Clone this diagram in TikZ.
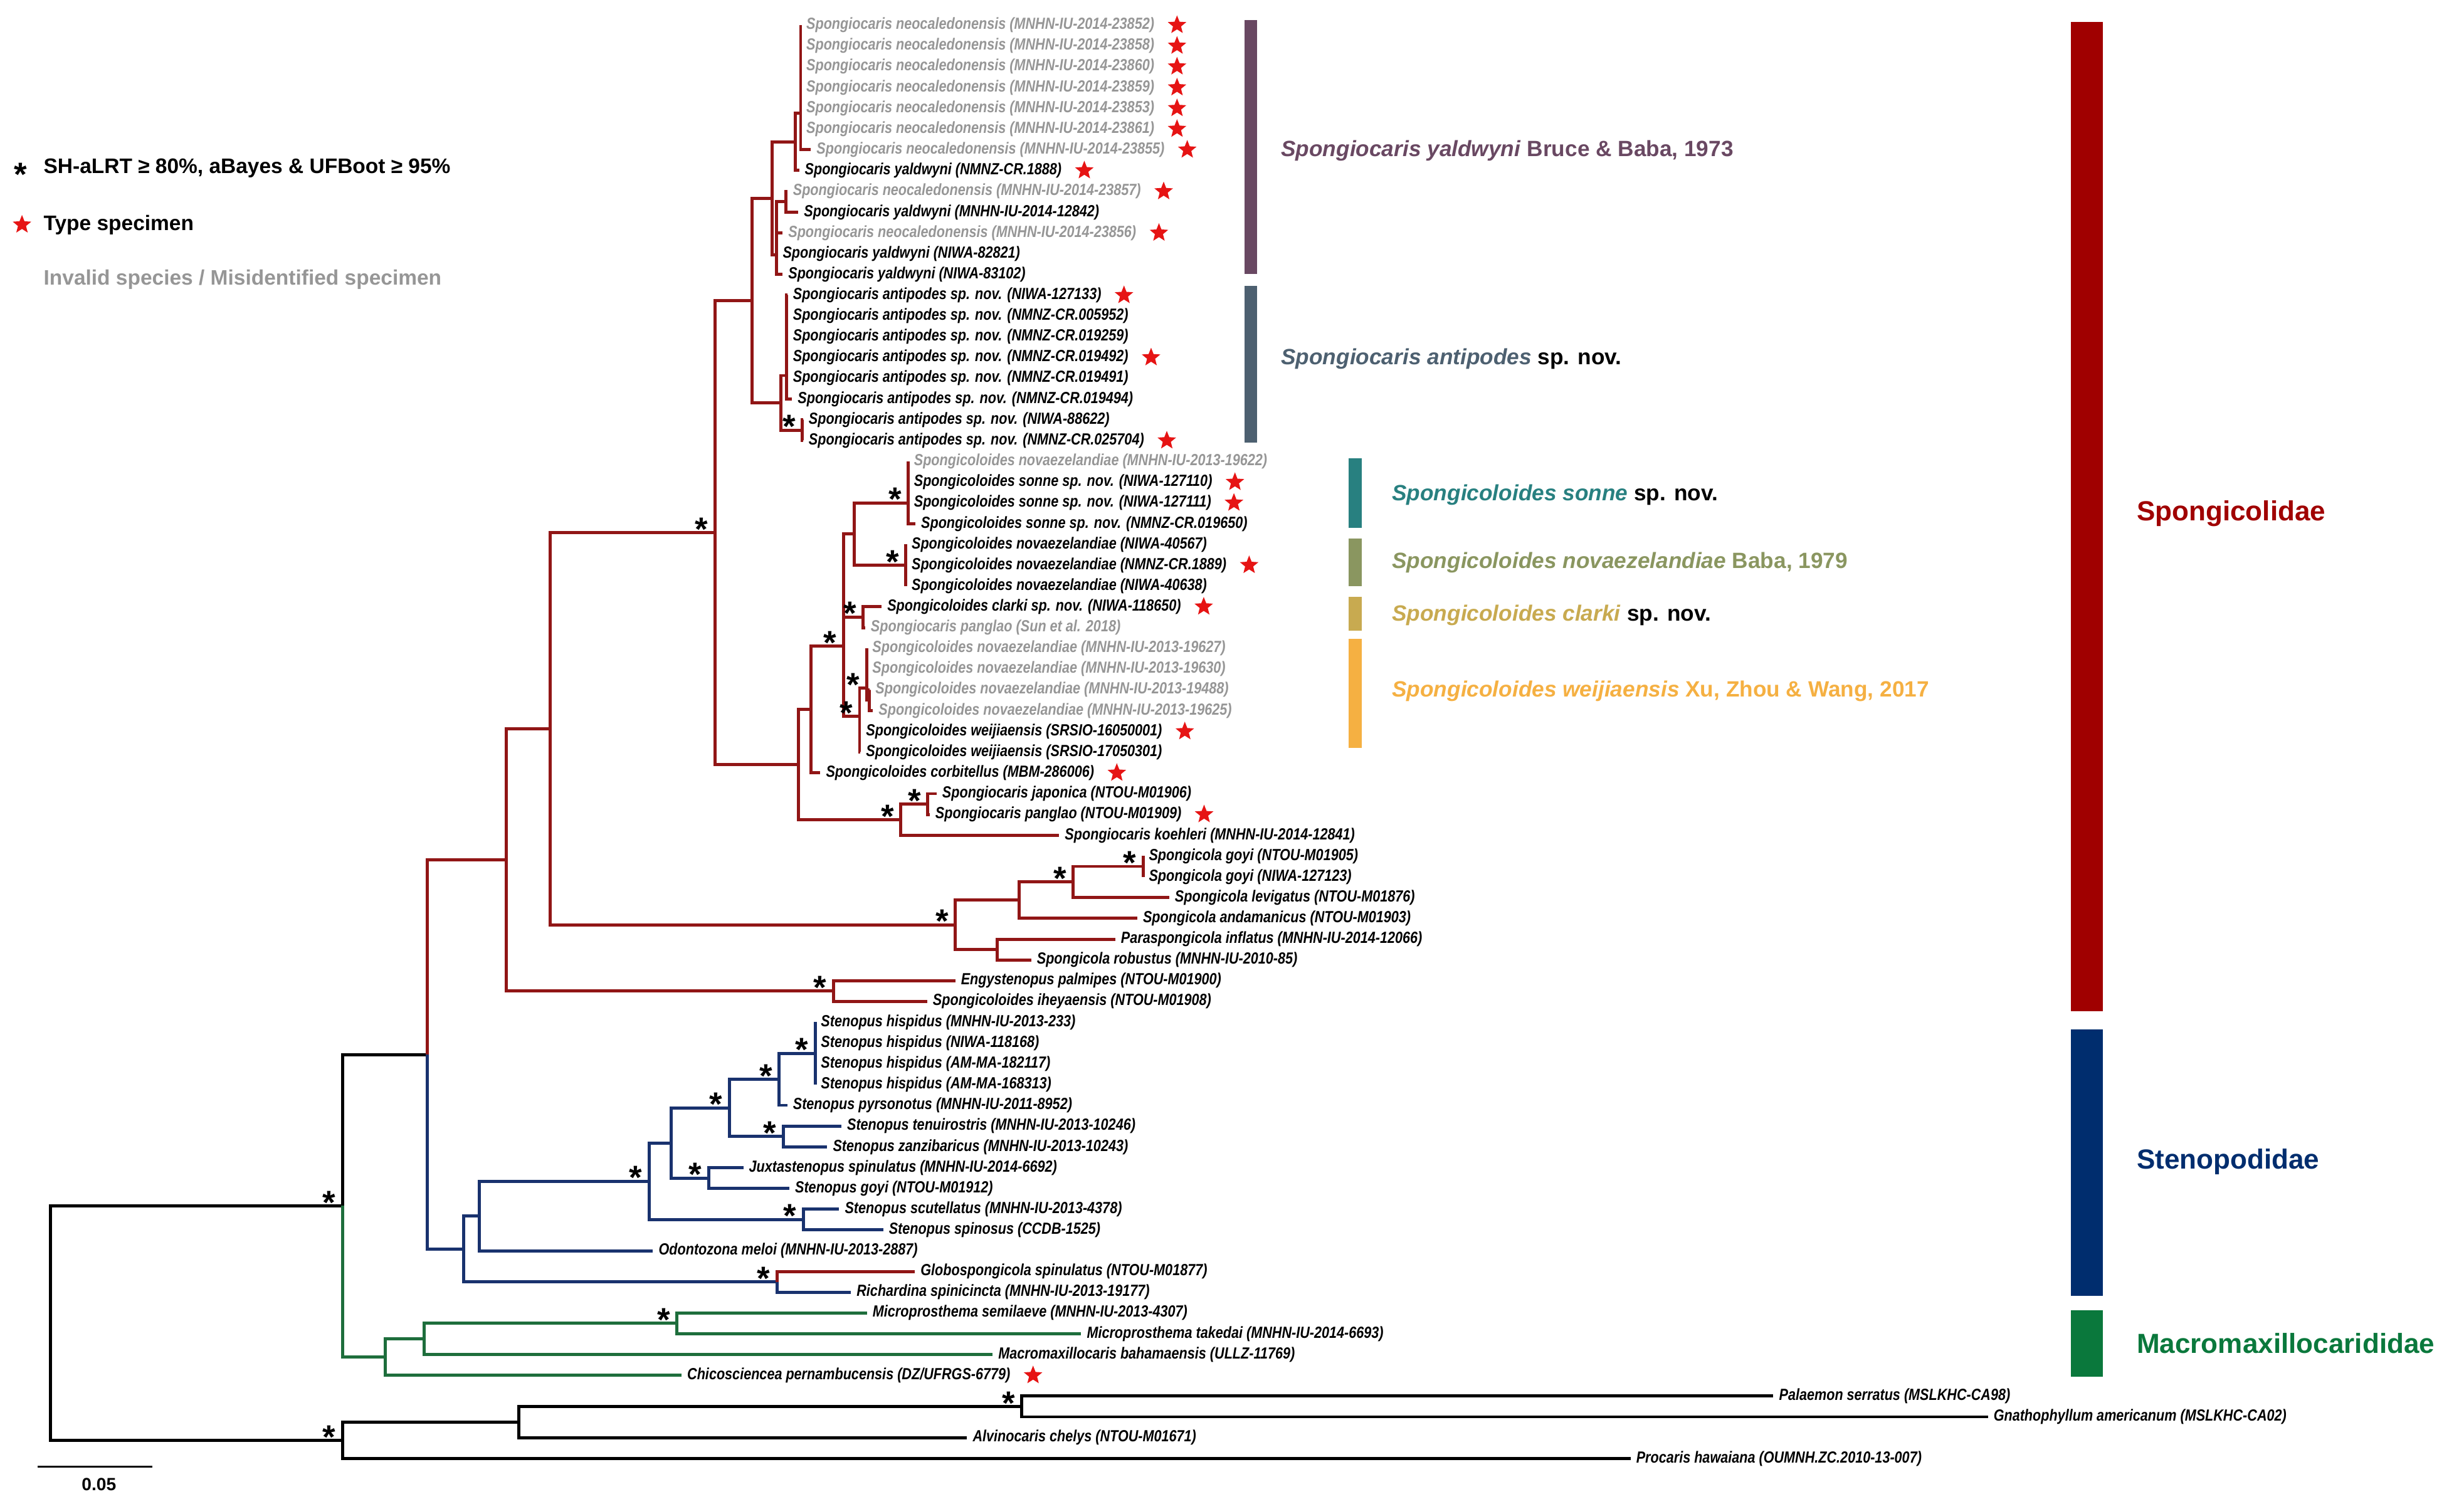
\documentclass[tikz,border=0pt]{standalone}
\usepackage{fontspec}
\setmainfont{Liberation Sans}
\newfontfamily\leaffont[FakeStretch=0.84]{Liberation Sans}
\usepackage{xcolor}
\usepackage{tikz}
\usetikzlibrary{
    shapes.geometric,
    positioning
}
\definecolor{brred}{RGB}{145,22,22}
\definecolor{brblue}{RGB}{25,50,110}
\definecolor{brgreen}{RGB}{30,110,60}
\definecolor{invgray}{RGB}{150,150,150}
\definecolor{typered}{RGB}{230,20,20}
\definecolor{famred}{RGB}{160,0,0}
\definecolor{famblue}{RGB}{0,45,110}
\definecolor{famgreen}{RGB}{10,120,60}
\definecolor{yaldcol}{RGB}{105,72,98}
\definecolor{antcol}{RGB}{77,96,112}
\definecolor{sonnecol}{RGB}{40,128,128}
\definecolor{novaecol}{RGB}{138,150,96}
\definecolor{clarkicol}{RGB}{200,170,80}
\definecolor{weijcol}{RGB}{245,176,66}
\tikzset{
  leaf/.style = {
      anchor=west,
      inner xsep=2.4pt,
      inner ysep=0.5pt,
      font=\leaffont\bfseries\itshape\fontsize{7.3}{8}\selectfont
  },
  invalid/.style = {
      leaf,
      text=invgray
  },
  typestar/.style = {
      star,
      star points=5,
      star point ratio=2.3,
      fill=typered,
      draw=none,
      inner sep=0pt,
      minimum size=0.31cm
  },
  supp/.style = {
      anchor=south east,
      inner sep=0pt,
      xshift=-2.9pt,
      yshift=-3.8pt,
      font=\bfseries\fontsize{15}{15}\selectfont
  },
  keyast/.style = {
      anchor=south,
      inner sep=0pt,
      yshift=-8.2pt,
      font=\bfseries\fontsize{15}{15}\selectfont
  },
  keytext/.style = {
      anchor=west,
      inner sep=0pt,
      font=\bfseries\fontsize{9.5}{11}\selectfont
  },
  cladelab/.style = {
      anchor=west,
      inner sep=0pt,
      font=\bfseries\fontsize{10}{12}\selectfont
  },
  famlab/.style = {
      anchor=west,
      inner sep=0pt,
      font=\bfseries\fontsize{12.5}{14}\selectfont
  },
  rbranch/.style = {
      draw=brred,
      line width=1.4pt
  },
  bbranch/.style = {
      draw=brblue,
      line width=1.4pt
  },
  gbranch/.style = {
      draw=brgreen,
      line width=1.4pt
  },
  kbranch/.style = {
      draw=black,
      line width=1.4pt
  }
}

\begin{document}
\begin{tikzpicture}[x=0.025cm, y=-0.025cm]
    \useasboundingbox (0,0) rectangle (1568,960);
    % Legend
    \node[keyast] (kAst) at (13,107) {*};
    \node[keytext] (kSupp) at (27.5,107) {SH-aLRT ≥ 80\%, aBayes \& UFBoot ≥ 95\%};
    \node[typestar] (kStar) at (14,143) {};
    \node[keytext] (kType) at (27.5,143) {Type specimen};
    \node[keytext, text=invgray] (kInv) at (27.5,178) {Invalid species / Misidentified specimen};
    % Tips
    \node[invalid] (l01) at (509.5,16.0) {Spongiocaris neocaledonensis (MNHN-IU-2014-23852)};
    \node[invalid] (l02) at (509.5,29.2) {Spongiocaris neocaledonensis (MNHN-IU-2014-23858)};
    \node[invalid] (l03) at (509.5,42.4) {Spongiocaris neocaledonensis (MNHN-IU-2014-23860)};
    \node[invalid] (l04) at (509.5,55.7) {Spongiocaris neocaledonensis (MNHN-IU-2014-23859)};
    \node[invalid] (l05) at (509.5,68.9) {Spongiocaris neocaledonensis (MNHN-IU-2014-23853)};
    \node[invalid] (l06) at (509.5,82.1) {Spongiocaris neocaledonensis (MNHN-IU-2014-23861)};
    \node[invalid] (l07) at (516,95.3) {Spongiocaris neocaledonensis (MNHN-IU-2014-23855)};
    \node[leaf] (l08) at (508.5,108.5) {Spongiocaris yaldwyni (NMNZ-CR.1888)};
    \node[invalid] (l09) at (501,121.8) {Spongiocaris neocaledonensis (MNHN-IU-2014-23857)};
    \node[leaf] (l10) at (508,135.0) {Spongiocaris yaldwyni (MNHN-IU-2014-12842)};
    \node[invalid] (l11) at (498,148.2) {Spongiocaris neocaledonensis (MNHN-IU-2014-23856)};
    \node[leaf] (l12) at (494.5,161.4) {Spongiocaris yaldwyni (NIWA-82821)};
    \node[leaf] (l13) at (498,174.6) {Spongiocaris yaldwyni (NIWA-83102)};
    \node[leaf] (l14) at (501,187.9) {Spongiocaris antipodes sp. nov. (NIWA-127133)};
    \node[leaf] (l15) at (501,201.1) {Spongiocaris antipodes sp. nov. (NMNZ-CR.005952)};
    \node[leaf] (l16) at (501,214.3) {Spongiocaris antipodes sp. nov. (NMNZ-CR.019259)};
    \node[leaf] (l17) at (501,227.5) {Spongiocaris antipodes sp. nov. (NMNZ-CR.019492)};
    \node[leaf] (l18) at (501,240.7) {Spongiocaris antipodes sp. nov. (NMNZ-CR.019491)};
    \node[leaf] (l19) at (504,254.0) {Spongiocaris antipodes sp. nov. (NMNZ-CR.019494)};
    \node[leaf] (l20) at (511,267.2) {Spongiocaris antipodes sp. nov. (NIWA-88622)};
    \node[leaf] (l21) at (511,280.4) {Spongiocaris antipodes sp. nov. (NMNZ-CR.025704)};
    \node[invalid] (l22) at (578,293.6) {Spongicoloides novaezelandiae (MNHN-IU-2013-19622)};
    \node[leaf] (l23) at (578,306.8) {Spongicoloides sonne sp. nov. (NIWA-127110)};
    \node[leaf] (l24) at (578,320.0) {Spongicoloides sonne sp. nov. (NIWA-127111)};
    \node[leaf] (l25) at (582.5,333.3) {Spongicoloides sonne sp. nov. (NMNZ-CR.019650)};
    \node[leaf] (l26) at (576.5,346.5) {Spongicoloides novaezelandiae (NIWA-40567)};
    \node[leaf] (l27) at (576.5,359.7) {Spongicoloides novaezelandiae (NMNZ-CR.1889)};
    \node[leaf] (l28) at (576.5,372.9) {Spongicoloides novaezelandiae (NIWA-40638)};
    \node[leaf] (l29) at (561,386.1) {Spongicoloides clarki sp. nov. (NIWA-118650)};
    \node[invalid] (l30) at (550.5,399.4) {Spongiocaris panglao (Sun et al. 2018)};
    \node[invalid] (l31) at (551.5,412.6) {Spongicoloides novaezelandiae (MNHN-IU-2013-19627)};
    \node[invalid] (l32) at (551.5,425.8) {Spongicoloides novaezelandiae (MNHN-IU-2013-19630)};
    \node[invalid] (l33) at (553.5,439.0) {Spongicoloides novaezelandiae (MNHN-IU-2013-19488)};
    \node[invalid] (l34) at (555.5,452.2) {Spongicoloides novaezelandiae (MNHN-IU-2013-19625)};
    \node[leaf] (l35) at (547.5,465.5) {Spongicoloides weijiaensis (SRSIO-16050001)};
    \node[leaf] (l36) at (547.5,478.7) {Spongicoloides weijiaensis (SRSIO-17050301)};
    \node[leaf] (l37) at (522,491.9) {Spongicoloides corbitellus (MBM-286006)};
    \node[leaf] (l38) at (596,505.1) {Spongiocaris japonica (NTOU-M01906)};
    \node[leaf] (l39) at (591.6,518.3) {Spongiocaris panglao (NTOU-M01909)};
    \node[leaf] (l40) at (674,531.6) {Spongiocaris koehleri (MNHN-IU-2014-12841)};
    \node[leaf] (l41) at (727.5,544.8) {Spongicola goyi (NTOU-M01905)};
    \node[leaf] (l42) at (727.5,558.0) {Spongicola goyi (NIWA-127123)};
    \node[leaf] (l43) at (744,571.2) {Spongicola levigatus (NTOU-M01876)};
    \node[leaf] (l44) at (723.7,584.4) {Spongicola andamanicus (NTOU-M01903)};
    \node[leaf] (l45) at (709.7,597.7) {Paraspongicola inflatus (MNHN-IU-2014-12066)};
    \node[leaf] (l46) at (656.2,610.9) {Spongicola robustus (MNHN-IU-2010-85)};
    \node[leaf] (l47) at (607.9,624.1) {Engystenopus palmipes (NTOU-M01900)};
    \node[leaf] (l48) at (590,637.3) {Spongicoloides iheyaensis (NTOU-M01908)};
    \node[leaf] (l49) at (518.8,650.5) {Stenopus hispidus (MNHN-IU-2013-233)};
    \node[leaf] (l50) at (518.8,663.8) {Stenopus hispidus (NIWA-118168)};
    \node[leaf] (l51) at (518.8,677.0) {Stenopus hispidus (AM-MA-182117)};
    \node[leaf] (l52) at (518.8,690.2) {Stenopus hispidus (AM-MA-168313)};
    \node[leaf] (l53) at (501,703.4) {Stenopus pyrsonotus (MNHN-IU-2011-8952)};
    \node[leaf] (l54) at (535.4,716.6) {Stenopus tenuirostris (MNHN-IU-2013-10246)};
    \node[leaf] (l55) at (526.4,729.9) {Stenopus zanzibaricus (MNHN-IU-2013-10243)};
    \node[leaf] (l56) at (473,743.1) {Juxtastenopus spinulatus (MNHN-IU-2014-6692)};
    \node[leaf] (l57) at (502.3,756.3) {Stenopus goyi (NTOU-M01912)};
    \node[leaf] (l58) at (534,769.5) {Stenopus scutellatus (MNHN-IU-2013-4378)};
    \node[leaf] (l59) at (562,782.7) {Stenopus spinosus (CCDB-1525)};
    \node[leaf] (l60) at (415.5,796.0) {Odontozona meloi (MNHN-IU-2013-2887)};
    \node[leaf] (l61) at (582.2,809.2) {Globospongicola spinulatus (NTOU-M01877)};
    \node[leaf] (l62) at (541.5,822.4) {Richardina spinicincta (MNHN-IU-2013-19177)};
    \node[leaf] (l63) at (551.7,835.6) {Microprosthema semilaeve (MNHN-IU-2013-4307)};
    \node[leaf] (l64) at (688,848.8) {Microprosthema takedai (MNHN-IU-2014-6693)};
    \node[leaf] (l65) at (631.7,862.1) {Macromaxillocaris bahamaensis (ULLZ-11769)};
    \node[leaf] (l66) at (433.7,875.3) {Chicosciencea pernambucensis (DZ/UFRGS-6779)};
    \node[leaf] (l67) at (1128.5,888.5) {Palaemon serratus (MSLKHC-CA98)};
    \node[leaf] (l68) at (1265,901.7) {Gnathophyllum americanum (MSLKHC-CA02)};
    \node[leaf] (l69) at (615.4,914.9) {Alvinocaris chelys (NTOU-M01671)};
    \node[leaf] (l70) at (1037.6,928.2) {Procaris hawaiana (OUMNH.ZC.2010-13-007)};
    % Type specimens
    \node[typestar, right=0.17cm of l01] (t01) {};
    \node[typestar, right=0.17cm of l02] (t02) {};
    \node[typestar, right=0.17cm of l03] (t03) {};
    \node[typestar, right=0.17cm of l04] (t04) {};
    \node[typestar, right=0.17cm of l05] (t05) {};
    \node[typestar, right=0.17cm of l06] (t06) {};
    \node[typestar, right=0.17cm of l07] (t07) {};
    \node[typestar, right=0.17cm of l08] (t08) {};
    \node[typestar, right=0.17cm of l09] (t09) {};
    \node[typestar, right=0.17cm of l11] (t11) {};
    \node[typestar, right=0.17cm of l14] (t14) {};
    \node[typestar, right=0.17cm of l17] (t17) {};
    \node[typestar, right=0.17cm of l21] (t21) {};
    \node[typestar, right=0.17cm of l23] (t23) {};
    \node[typestar, right=0.17cm of l24] (t24) {};
    \node[typestar, right=0.17cm of l27] (t27) {};
    \node[typestar, right=0.17cm of l29] (t29) {};
    \node[typestar, right=0.17cm of l35] (t35) {};
    \node[typestar, right=0.17cm of l37] (t37) {};
    \node[typestar, right=0.17cm of l39] (t39) {};
    \node[typestar, right=0.17cm of l66] (t66) {};
    % Internal nodes
    \coordinate (nNeoA) at (509.5,49.1);
    \coordinate (nNeoB) at (509.5,72.2);
    \coordinate (nYalA) at (506,90.3);
    \coordinate (nYalD) at (500,128.4);
    \coordinate (nYalC) at (494,162);
    \coordinate (nYal) at (491.5,126.2);
    \coordinate (nAntA) at (500.5,239);
    \coordinate (nAntB) at (510.5,273.8);
    \coordinate (nAnt) at (497,256.4);
    \coordinate (nSpc) at (478.5,191.3);
    \coordinate (nSon) at (578,320);
    \coordinate (nNov) at (576.5,359.7);
    \coordinate (nSonNov) at (543.5,339.9);
    \coordinate (nCla) at (549.3,392.7);
    \coordinate (nSgA) at (536.7,366.3);
    \coordinate (nWeiB) at (553,445.6);
    \coordinate (nWeiA) at (551.5,438);
    \coordinate (nWei) at (547,456);
    \coordinate (nSgC) at (536.7,411.2);
    \coordinate (nCor) at (516,451.5);
    \coordinate (nJap) at (590.4,511.7);
    \coordinate (nKoe) at (573.3,521.6);
    \coordinate (nSgK) at (508,486.6);
    \coordinate (n455) at (455,339);
    \coordinate (nGoy) at (727.5,551.4);
    \coordinate (nLev) at (683,561.3);
    \coordinate (nAnd) at (648.6,572.9);
    \coordinate (nPar) at (634.6,604.3);
    \coordinate (nSpg) at (607.9,588.6);
    \coordinate (nEng) at (530.3,630.7);
    \coordinate (nBig) at (350,463.8);
    \coordinate (nFam) at (322,547.3);
    \coordinate (nHis) at (518.8,670.4);
    \coordinate (nPyr) at (495.9,686.9);
    \coordinate (nTen) at (498.4,723.3);
    \coordinate (nSt4) at (464.1,705.1);
    \coordinate (nJux) at (451,749.7);
    \coordinate (nSt5) at (427,727.4);
    \coordinate (nScu) at (511.2,776.1);
    \coordinate (nSt6) at (413,751.8);
    \coordinate (nSt7) at (305,773.9);
    \coordinate (nGlo) at (494.4,815.8);
    \coordinate (nSte) at (295,794.9);
    \coordinate (n272) at (272,671.1);
    \coordinate (nMic) at (430.8,842.2);
    \coordinate (nMac2) at (270,852.2);
    \coordinate (nMac) at (245,863.7);
    \coordinate (nIn) at (218,767.4);
    \coordinate (nPal) at (650.2,895.1);
    \coordinate (nAlv) at (330,905);
    \coordinate (nOut) at (218,916.6);
    \coordinate (nRoot) at (32,842);
    % Edges
    \draw[kbranch]
    (nRoot) |- (nIn) (nRoot) |- (nOut)
    (nIn) |- (n272)
    (nOut) |- (nAlv) (nOut) |- (l70.west)
    (nAlv) |- (nPal) (nAlv) |- (l69.west)
    (nPal) |- (l67.west) (nPal) |- (l68.west);
    \draw[gbranch]
    (nIn) |- (nMac)
    (nMac) |- (nMac2) (nMac) |- (l66.west)
    (nMac2) |- (nMic) (nMac2) |- (l65.west)
    (nMic) |- (l63.west) (nMic) |- (l64.west);
    \draw[bbranch]
    (n272) |- (nSte)
    (nSte) |- (nSt7) (nSte) |- (nGlo)
    (nGlo) |- (l62.west)
    (nSt7) |- (nSt6) (nSt7) |- (l60.west)
    (nSt6) |- (nSt5) (nSt6) |- (nScu)
    (nScu) |- (l58.west) (nScu) |- (l59.west)
    (nSt5) |- (nSt4) (nSt5) |- (nJux)
    (nJux) |- (l56.west) (nJux) |- (l57.west)
    (nSt4) |- (nPyr) (nSt4) |- (nTen)
    (nTen) |- (l54.west) (nTen) |- (l55.west)
    (nPyr) |- (nHis) (nPyr) |- (l53.west)
    (nHis) |- (l49.west) (nHis) |- (l50.west)
    (nHis) |- (l51.west) (nHis) |- (l52.west);
    \draw[rbranch]
    (n272) |- (nFam)
    (nGlo) |- (l61.west)
    (nFam) |- (nBig) (nFam) |- (nEng)
    (nEng) |- (l47.west) (nEng) |- (l48.west)
    (nBig) |- (n455) (nBig) |- (nSpg)
    (nSpg) |- (nAnd) (nSpg) |- (nPar)
    (nPar) |- (l45.west) (nPar) |- (l46.west)
    (nAnd) |- (nLev) (nAnd) |- (l44.west)
    (nLev) |- (nGoy) (nLev) |- (l43.west)
    (nGoy) |- (l41.west) (nGoy) |- (l42.west)
    (n455) |- (nSpc) (n455) |- (nSgK)
    (nSgK) |- (nCor) (nSgK) |- (nKoe)
    (nKoe) |- (nJap) (nKoe) |- (l40.west)
    (nJap) |- (l38.west) (nJap) |- (l39.west)
    (nCor) |- (nSgC) (nCor) |- (l37.west)
    (nSgC) |- (nSgA) (nSgC) |- (nWei)
    (nWei) |- (nWeiA) (nWei) |- (l35.west) (nWei) |- (l36.west)
    (nWeiA) |- (l31.west) (nWeiA) |- (l32.west) (nWeiA) |- (nWeiB)
    (nWeiB) |- (l33.west) (nWeiB) |- (l34.west)
    (nSgA) |- (nSonNov) (nSgA) |- (nCla)
    (nCla) |- (l29.west) (nCla) |- (l30.west)
    (nSonNov) |- (nSon) (nSonNov) |- (nNov)
    (nSon) |- (l22.west) (nSon) |- (l23.west)
    (nSon) |- (l24.west) (nSon) |- (l25.west)
    (nNov) |- (l26.west) (nNov) |- (l27.west) (nNov) |- (l28.west)
    (nSpc) |- (nYal) (nSpc) |- (nAnt)
    (nAnt) |- (nAntA) (nAnt) |- (nAntB)
    (nAntA) |- (l14.west) (nAntA) |- (l15.west) (nAntA) |- (l16.west)
    (nAntA) |- (l17.west) (nAntA) |- (l18.west) (nAntA) |- (l19.west)
    (nAntB) |- (l20.west) (nAntB) |- (l21.west)
    (nYal) |- (nYalA) (nYal) |- (nYalC)
    (nYalC) |- (nYalD) (nYalC) |- (l11.west)
    (nYalC) |- (l12.west) (nYalC) |- (l13.west)
    (nYalD) |- (l09.west) (nYalD) |- (l10.west)
    (nYalA) |- (nNeoB) (nYalA) |- (l08.west)
    (nNeoB) |- (nNeoA) (nNeoB) |- (l07.west)
    (nNeoA) |- (l01.west) (nNeoA) |- (l02.west) (nNeoA) |- (l03.west)
    (nNeoA) |- (l04.west) (nNeoA) |- (l05.west) (nNeoA) |- (l06.west);
    % Support values
    \node[supp] (aIn) at (nIn) {*};
    \node[supp] (aOut) at (nOut) {*};
    \node[supp] (aPal) at (nPal) {*};
    \node[supp] (a455) at (n455) {*};
    \node[supp] (aAntB) at (nAntB) {*};
    \node[supp] (aSon) at (nSon) {*};
    \node[supp] (aNov) at (nNov) {*};
    \node[supp] (aCla) at (nCla) {*};
    \node[supp] (aSgC) at (nSgC) {*};
    \node[supp] (aWeiA) at (nWeiA) {*};
    \node[supp] (aWei) at (nWei) {*};
    \node[supp] (aJap) at (nJap) {*};
    \node[supp] (aKoe) at (nKoe) {*};
    \node[supp] (aGoy) at (nGoy) {*};
    \node[supp] (aLev) at (nLev) {*};
    \node[supp] (aSpg) at (nSpg) {*};
    \node[supp] (aEng) at (nEng) {*};
    \node[supp] (aHis) at (nHis) {*};
    \node[supp] (aPyr) at (nPyr) {*};
    \node[supp] (aTen) at (nTen) {*};
    \node[supp] (aSt4) at (nSt4) {*};
    \node[supp] (aJux) at (nJux) {*};
    \node[supp] (aSt6) at (nSt6) {*};
    \node[supp] (aScu) at (nScu) {*};
    \node[supp] (aGlo) at (nGlo) {*};
    \node[supp] (aMic) at (nMic) {*};
    % Clade bars
    \fill[yaldcol] (792,12.6) rectangle (799.8,174.5);
    \fill[antcol] (792,181.9) rectangle (799.8,281.8);
    \fill[sonnecol] (858.2,291.6) rectangle (866.6,335.9);
    \fill[novaecol] (858.2,342.7) rectangle (866.6,372.9);
    \fill[clarkicol] (858.2,379.7) rectangle (866.6,401.2);
    \fill[weijcol] (858.2,406.4) rectangle (866.6,475.9);
    \fill[famred] (1318,13.8) rectangle (1338,643.4);
    \fill[famblue] (1318,655) rectangle (1338,824.5);
    \fill[famgreen] (1318,834) rectangle (1338,876);
    % Clade labels
    \node[cladelab, text=yaldcol] (cYal) at (815,96) {\textit{Spongiocaris yaldwyni} Bruce \& Baba, 1973};
    \node[cladelab, text=antcol] (cAnt) at (815,228.5) {\textit{Spongiocaris antipodes} \textcolor{black}{sp. nov.}};
    \node[cladelab, text=sonnecol] (cSon) at (885.6,315) {\textit{Spongicoloides sonne} \textcolor{black}{sp. nov.}};
    \node[cladelab, text=novaecol] (cNov) at (885.6,358) {\textit{Spongicoloides novaezelandiae} Baba, 1979};
    \node[cladelab, text=clarkicol] (cCla) at (885.6,391.5) {\textit{Spongicoloides clarki} \textcolor{black}{sp. nov.}};
    \node[cladelab, text=weijcol] (cWei) at (885.6,440) {\textit{Spongicoloides weijiaensis} Xu, Zhou \& Wang, 2017};
    \node[famlab, text=famred] (fSpo) at (1359.5,327) {Spongicolidae};
    \node[famlab, text=famblue] (fSte) at (1359.5,739.5) {Stenopodidae};
    \node[famlab, text=famgreen] (fMac) at (1359.5,855) {Macromaxillocarididae};
    % Scale bar
    \coordinate (sbL) at (24,933.5);
    \coordinate (sbR) at (97,933.5);
    \draw[line width=1pt] (sbL) -- (sbR);
    \node[keytext, anchor=center, font=\bfseries\fontsize{8}{9}\selectfont] (sbT) at (63,944.5) {0.05};
\end{tikzpicture}
\end{document}
